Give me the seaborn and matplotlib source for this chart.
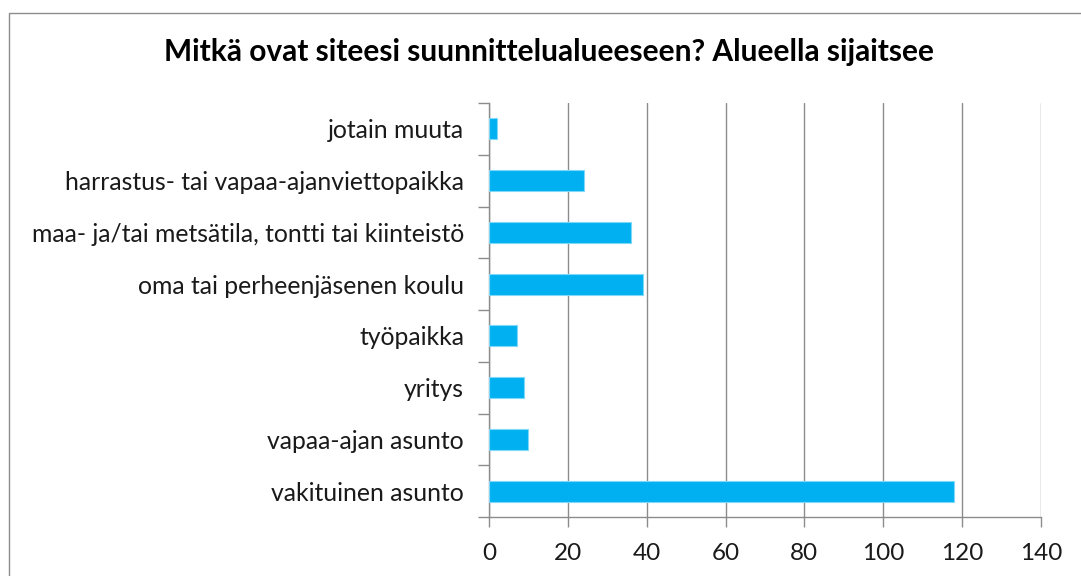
import matplotlib
matplotlib.use("Agg")
import matplotlib.pyplot as plt
import seaborn as sns
import pandas as pd
import numpy as np
from matplotlib.patches import Rectangle

categories = [
    "jotain muuta",
    "harrastus- tai vapaa-ajanviettopaikka",
    "maa- ja/tai metsätila, tontti tai kiinteistö",
    "oma tai perheenjäsenen koulu",
    "työpaikka",
    "yritys",
    "vapaa-ajan asunto",
    "vakituinen asunto",
]
values = [2, 24, 36, 39, 7, 9, 10, 118]
x_ticks = [0, 20, 40, 60, 80, 100, 120, 140]
title = "Mitkä ovat siteesi suunnittelualueeseen? Alueella sijaitsee"

df = pd.DataFrame({"kategoria": categories, "arvo": values})

sns.set_theme(style="white")
plt.rcParams["font.family"] = ["Lato", "DejaVu Sans"]

W, H = 1081, 576
fig = plt.figure(figsize=(W / 100, H / 100), dpi=100)
fig.patch.set_facecolor("white")

# outer chart frame
fig.patches.append(Rectangle((8.5 / W, -0.2), 1.5, 1.2 - 12.5 / H,
                             transform=fig.transFigure, fill=False,
                             edgecolor="#8c8c8c", linewidth=1.0))

ax = fig.add_axes([489 / W, 1 - 517 / H, (1041 - 489) / W, (517 - 103) / H])
sns.barplot(data=df, x="arvo", y="kategoria", order=categories, orient="h",
            color="#00B0F0", saturation=1, width=0.41, ax=ax,
            edgecolor="#7fd8f8", linewidth=0.8, zorder=3)

ax.set_xlim(0, 140)
ax.set_ylim(len(categories) - 0.5, -0.5)
ax.set_xticks(x_ticks)
ax.set_xticklabels([str(t) for t in x_ticks])
ax.set_xlabel("")
ax.set_ylabel("")

ax.xaxis.grid(True, color="#8c8c8c", linewidth=1.0, zorder=0)
ax.yaxis.grid(False)
ax.set_axisbelow(True)

for s in ["top", "right"]:
    ax.spines[s].set_visible(False)
for s in ["left", "bottom"]:
    ax.spines[s].set_color("#8c8c8c")
    ax.spines[s].set_linewidth(1.0)

ax.set_yticks(np.arange(len(categories)))
ax.set_yticks(np.arange(len(categories) + 1) - 0.5, minor=True)
ax.tick_params(axis="y", which="major", length=0, pad=18, labelsize=17.8,
               labelcolor="#1a1a1a")
ax.tick_params(axis="y", which="minor", length=8, width=1.0, color="#8c8c8c",
               direction="out", left=True)
ax.tick_params(axis="x", which="major", length=7, width=1.0, color="#8c8c8c",
               direction="out", bottom=True, pad=12, labelsize=17.5,
               labelcolor="#1a1a1a")

fig.text(549 / W, 1 - 52 / H, title, ha="center", va="center",
         fontsize=21.5, fontweight="bold", color="#000000")

fig.savefig("out.png", dpi=100)
